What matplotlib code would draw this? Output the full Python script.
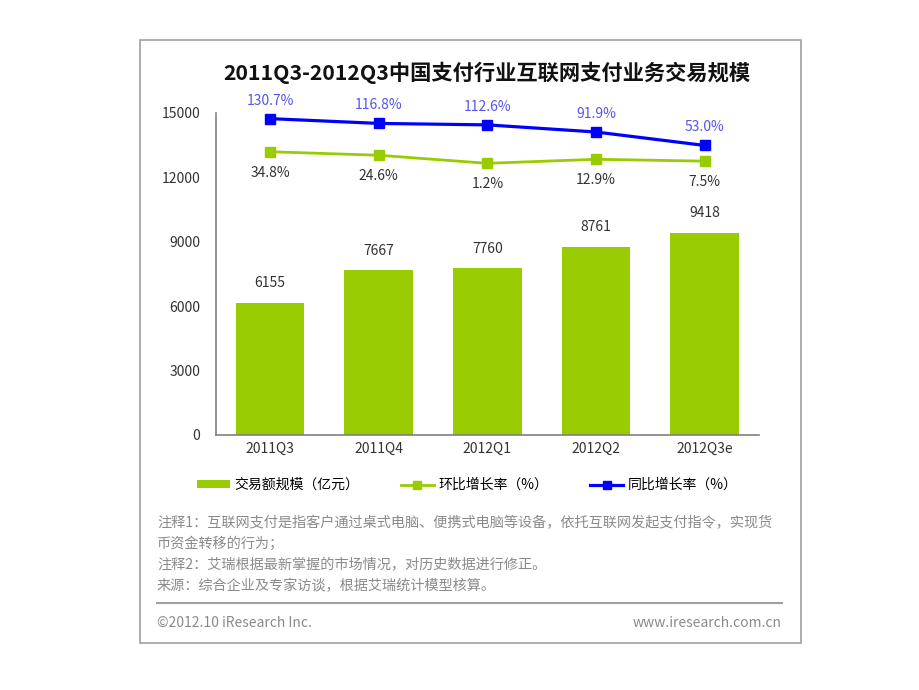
import matplotlib
matplotlib.use('Agg')
import matplotlib.pyplot as plt
from matplotlib.patches import Rectangle
from matplotlib.lines import Line2D
import numpy as np

plt.rcParams['font.family'] = ['Noto Sans CJK SC', 'DejaVu Sans']

# data
quarters = ['2011Q3', '2011Q4', '2012Q1', '2012Q2', '2012Q3e']
volume = [6155, 7667, 7760, 8761, 9418]          # 亿元
qoq = [34.8, 24.6, 1.2, 12.9, 7.5]                # 环比增长率 %
yoy = [130.7, 116.8, 112.6, 91.9, 53.0]           # 同比增长率 %

title = '2011Q3-2012Q3中国支付行业互联网支付业务交易规模'
legend_labels = ['交易额规模（亿元）', '环比增长率（%）', '同比增长率（%）']
notes = ['注释1：互联网支付是指客户通过桌式电脑、便携式电脑等设备，依托互联网发起支付指令，实现货',
         '币资金转移的行为；',
         '注释2：艾瑞根据最新掌握的市场情况，对历史数据进行修正。',
         '来源：综合企业及专家访谈，根据艾瑞统计模型核算。']

green = '#99CC00'
blue = '#0000FF'

fig = plt.figure(figsize=(9.2, 6.9), dpi=100)
W, H = 920.0, 690.0

# outer frame
fig.patches.append(Rectangle((140.3 / W, 1 - 642.7 / H), 660.4 / W, 602.4 / H,
                             transform=fig.transFigure, fill=False,
                             edgecolor='#A0A0A0', linewidth=1.2))

ax = fig.add_axes([215.7 / W, 1 - 435 / H, (759 - 215.7) / W, 322 / H])
x = np.arange(len(quarters))
bars = ax.bar(x, volume, width=0.63, color=green, zorder=2)
ax.set_xlim(-0.5, len(quarters) - 0.5)
ax.set_ylim(0, 15000)
ax.set_yticks([0, 3000, 6000, 9000, 12000, 15000])
ax.set_xticks(x)
ax.set_xticklabels(quarters)
ax.tick_params(axis='y', length=0, pad=11, labelsize=10, labelcolor='#333333')
ax.tick_params(axis='x', length=0, pad=5, labelsize=10, labelcolor='#333333')
for s in ['top', 'right']:
    ax.spines[s].set_visible(False)
for s in ['left', 'bottom']:
    ax.spines[s].set_color('#808080')
    ax.spines[s].set_linewidth(1.2)

for xi, v in zip(x, volume):
    ax.annotate(str(v), (xi, v), xytext=(0, 9), textcoords='offset points',
                ha='center', va='bottom', fontsize=10, color='#333333')

# rates on a hidden secondary axis
ax2 = ax.twinx()
ax2.set_ylim(-786, 147)
ax2.axis('off')
l1, = ax2.plot(x, qoq, color=green, linewidth=2, marker='s', markersize=7,
               markeredgecolor=green, zorder=3)
l2, = ax2.plot(x, yoy, color=blue, linewidth=2.3, marker='s', markersize=7.5,
               markeredgecolor=blue, zorder=4)
for xi, v in zip(x, qoq):
    ax2.annotate('%.1f%%' % v, (xi, v), xytext=(0, -10), textcoords='offset points',
                 ha='center', va='top', fontsize=10, color='#333333')
for xi, v in zip(x, yoy):
    ax2.annotate('%.1f%%' % v, (xi, v), xytext=(0, 8), textcoords='offset points',
                 ha='center', va='bottom', fontsize=10, color='#5555EE')

fig.text(487 / W, 1 - 73 / H, title, ha='center', va='center',
         fontsize=15.3, fontweight='bold', color='#111111')

fig.legend([bars, l1, l2], legend_labels, loc='center',
           bbox_to_anchor=(467 / W, 1 - 485 / H), ncol=3, frameon=False,
           fontsize=10, handlelength=2.4, handleheight=0.5, handletextpad=0.3,
           columnspacing=3.0, markerscale=0.8)

for i, line in enumerate(notes):
    fig.text(157 / W, 1 - (523 + 21 * i) / H, line, ha='left', va='center',
             fontsize=10.2, color='#8A8A8A')

fig.lines.append(Line2D([157 / W, 782 / W], [1 - 603 / H, 1 - 603 / H],
                        transform=fig.transFigure, color='#A0A0A0', linewidth=1.5))
fig.text(157 / W, 1 - 623 / H, '©2012.10 iResearch Inc.', ha='left', va='center',
         fontsize=10, color='#8A8A8A')
fig.text(782 / W, 1 - 623 / H, 'www.iresearch.com.cn', ha='right', va='center',
         fontsize=10, color='#8A8A8A')

fig.savefig('out.png', dpi=100)
